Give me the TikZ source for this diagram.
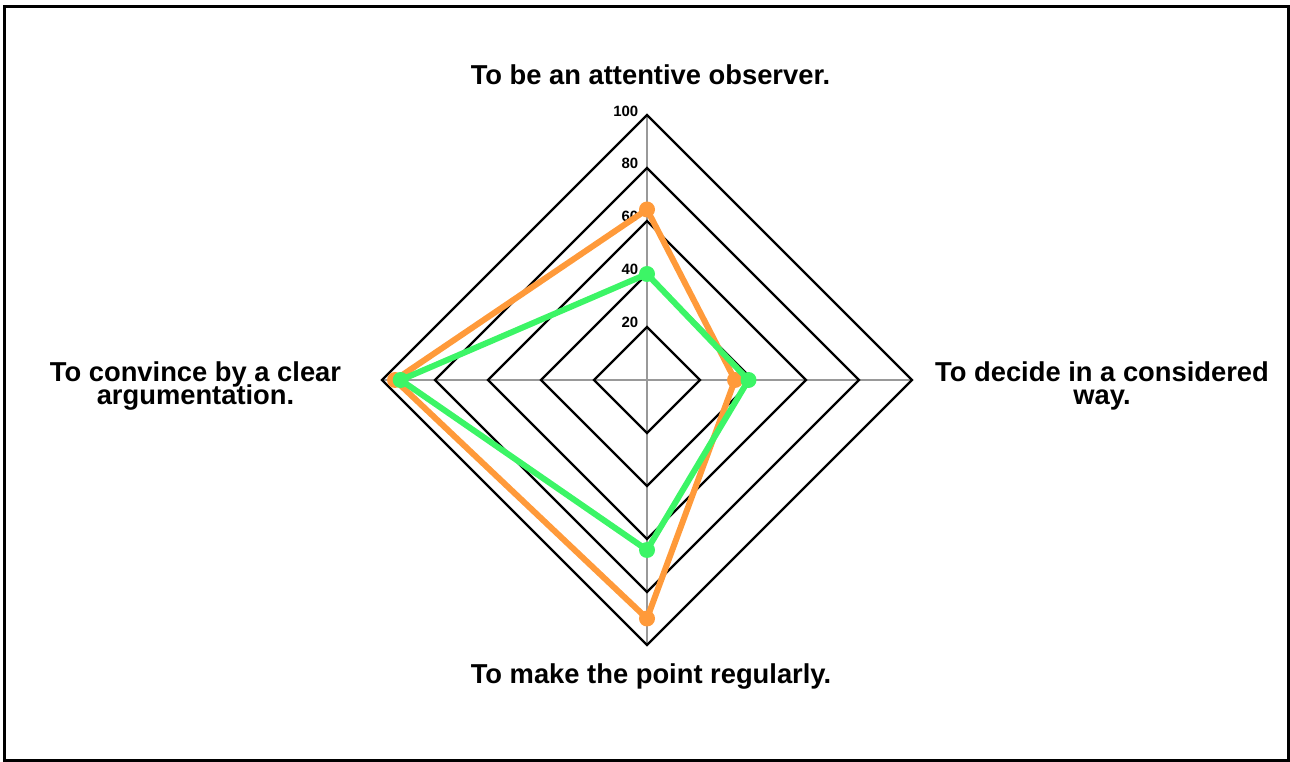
\documentclass[tikz,border=0pt]{standalone}
\usepackage{fontspec}
\setmainfont{Liberation Sans}
\begin{document}
\begin{tikzpicture}[x=0.75pt,y=-0.75pt,
  ring/.style={draw=black,line width=2.4pt*0.75,line join=miter},
  axisline/.style={draw=black!40,line width=1.5pt*0.75},
  series/.style={line width=6pt*0.75,line join=round},
  dot/.style={circle,inner sep=0pt,minimum size=16pt*0.75},
  biglabel/.style={font=\fontsize{20.5}{22}\selectfont\bfseries,anchor=base,inner sep=0pt},
  ticklabel/.style={font=\fontsize{11.2}{12}\selectfont\bfseries,anchor=base east,inner sep=0pt}]
\definecolor{orangeS}{HTML}{FF9A3A}
\definecolor{greenS}{HTML}{3CF566}
\useasboundingbox (0,0) rectangle (1290,762);
\draw[line width=2.5pt*0.75] (4.5,6.5) rectangle (1288.7,760.7);
\coordinate (C) at (647,380);
\coordinate (axN) at (647,115);
\coordinate (axE) at (912,380);
\coordinate (axS) at (647,645);
\coordinate (axW) at (382,380);
% axes
\foreach \n in {N,E,S,W}{ \draw[axisline] (C) -- (ax\n); }
% rings
\foreach \k in {1,...,5}{
  \pgfmathsetmacro{\r}{53*\k}
  \draw[ring] (647,380-\r) -- (647+\r,380) -- (647,380+\r) -- (647-\r,380) -- cycle;
}
% tick labels
\node[ticklabel] (t20) at (638.5,327.5) {20};
\node[ticklabel] (t40) at (638.5,274.5) {40};
\node[ticklabel] (t60) at (638.5,221.5) {60};
\node[ticklabel] (t80) at (638.5,168.5) {80};
\node[ticklabel] (t100) at (638.5,116.5) {100};
% axis labels
\node[biglabel] (lN) at (650.5,84.3) {To be an attentive observer.};
\node[biglabel] (lS) at (651,684) {To make the point regularly.};
\node[biglabel] (lW1) at (195.5,381.5) {To convince by a clear};
\node[biglabel] (lW2) at (195.5,405) {argumentation.};
\node[biglabel] (lE1) at (1102,381.5) {To decide in a considered};
\node[biglabel] (lE2) at (1102,405) {way.};
% orange series
\coordinate (oN) at (647,209.5);
\coordinate (oE) at (735,380);
\coordinate (oS) at (647,618.5);
\coordinate (oW) at (395,380);
\draw[series,orangeS] (oN) -- (oE) -- (oS) -- (oW) -- cycle;
\foreach \p in {oN,oE,oS,oW}{ \node[dot,fill=orangeS] (d\p) at (\p) {}; }
% green series
\coordinate (gN) at (647,274);
\coordinate (gE) at (748.5,380);
\coordinate (gS) at (647,550);
\coordinate (gW) at (400.7,380);
\draw[series,greenS] (gN) -- (gE) -- (gS) -- (gW) -- cycle;
\foreach \p in {gN,gE,gS,gW}{ \node[dot,fill=greenS] (d\p) at (\p) {}; }
\end{tikzpicture}
\end{document}
